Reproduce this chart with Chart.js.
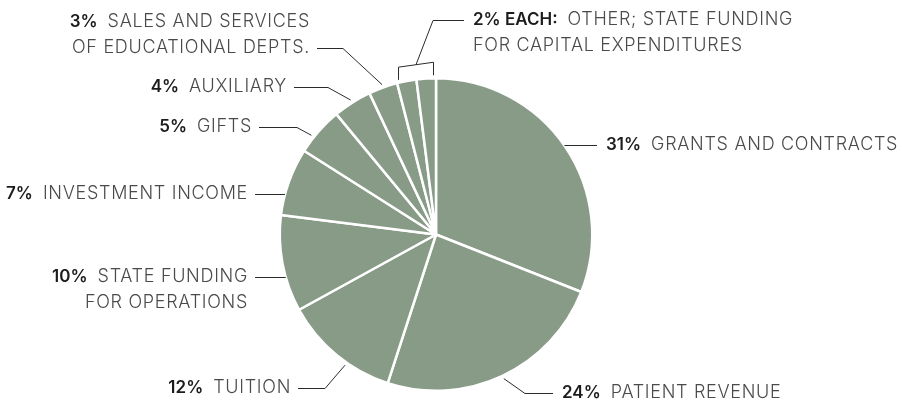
<!DOCTYPE html>
<html>
<head>
<meta charset="utf-8">
<script src="https://cdn.jsdelivr.net/npm/chart.js@4.4.0/dist/chart.umd.min.js"></script>
<style>
  html, body { margin:0; padding:0; background:#fff; }
  #wrap { width:902px; height:400px; position:relative; }
</style>
</head>
<body>
<div id="wrap"><canvas id="pie"></canvas></div>
<script>
// ---- data ----
const categories = ['Grants and contracts', 'Patient revenue', 'Tuition', 'State funding for operations',
  'Investment income', 'Gifts', 'Auxiliary', 'Sales and services of educational depts.',
  'Other', 'State funding for capital expenditures'];
const shares = [31, 24, 12, 10, 7, 5, 4, 3, 2, 2];

// callout texts (the two 2% slices share one callout)
const pctLabels = ['31%', '24%', '12%', '10%', '7%', '5%', '4%', '3%', '2% EACH:'];
const calloutText = [
  ['GRANTS AND CONTRACTS'],
  ['PATIENT REVENUE'],
  ['TUITION'],
  ['STATE FUNDING', 'FOR OPERATIONS'],
  ['INVESTMENT INCOME'],
  ['GIFTS'],
  ['AUXILIARY'],
  ['SALES AND SERVICES', 'OF EDUCATIONAL DEPTS.'],
  ['OTHER; STATE FUNDING', 'FOR CAPITAL EXPENDITURES']
];
const calloutSlices = [[0], [1], [2], [3], [4], [5], [6], [7], [8, 9]];

// ---- callout layout, offsets from the pie centre ----
const LINE_H = 26;
const callouts = [
  { align: 'left',  tx: 170,  ty: -90,  mode: 'h' },
  { align: 'left',  tx: 126,  ty: 158,  mode: 'elbow', ex: 89 },
  { align: 'right', tx: -145, ty: 153,  mode: 'elbow', ex: -111, at: 0.39 },
  { align: 'right', tx: -188, ty: 42,   mode: 'h' },
  { align: 'right', tx: -188, ty: -41,  mode: 'h' },
  { align: 'right', tx: -184, ty: -108, mode: 'elbow', ex: -139, at: 0.34 },
  { align: 'right', tx: -149, ty: -148, mode: 'elbow', ex: -108 },
  { align: 'right', tx: -126, ty: -213, mode: 'elbow', ex: -93, leadLine: 1 },
  { align: 'left',  tx: 37,   ty: -215, mode: 'bracket', ex: -3 }
];

const PCT_FONT = '600 17px Inter, Roboto, sans-serif';
const TXT_FONT = '300 18px Inter, Roboto, sans-serif';

const calloutPlugin = {
  id: 'callouts',
  afterDatasetsDraw(chart) {
    const ctx = chart.ctx;
    const arcs = chart.getDatasetMeta(0).data;
    const cx = arcs[0].x, cy = arcs[0].y, R = arcs[0].outerRadius;
    const spacing = v => { if ('letterSpacing' in ctx) ctx.letterSpacing = v; };
    ctx.save();
    ctx.strokeStyle = '#2b2b2b';
    ctx.lineWidth = 1;
    ctx.textBaseline = 'middle';
    ctx.textAlign = 'left';

    callouts.forEach((c, i) => {
      const idx = calloutSlices[i];
      const first = arcs[idx[0]], last = arcs[idx[idx.length - 1]];
      const ly = Math.round(cy + c.ty + (c.leadLine || 0) * LINE_H) + 0.5;
      const tx = cx + c.tx;
      const lineEnd = c.align === 'right' ? tx + 7 : tx - 9;

      // leader line
      ctx.beginPath();
      if (c.mode === 'h') {
        const dy = ly - cy;
        const dx = Math.sqrt(R * R - dy * dy);
        ctx.moveTo(c.align === 'right' ? cx - dx : cx + dx, ly);
        ctx.lineTo(lineEnd, ly);
      } else if (c.mode === 'elbow') {
        const a = first.startAngle + (first.endAngle - first.startAngle) * (c.at ?? 0.5);
        ctx.moveTo(cx + (R + 3) * Math.cos(a), cy + (R + 3) * Math.sin(a));
        ctx.lineTo(cx + c.ex, ly);
        ctx.lineTo(lineEnd, ly);
      } else {
        const a1 = first.startAngle + 0.012, a2 = last.endAngle - 0.012;
        const x1 = Math.round(cx + (R + 3) * Math.cos(a1)) + 0.5, y1 = cy + (R + 3) * Math.sin(a1);
        const x2 = Math.round(cx + (R + 3) * Math.cos(a2)) - 0.5, y2 = cy + (R + 3) * Math.sin(a2);
        const t1 = cy + (R + 16) * Math.sin(a1), t2 = cy + (R + 16) * Math.sin(a2);
        ctx.moveTo(x1, y1); ctx.lineTo(x1, t1); ctx.lineTo(x2, t2); ctx.lineTo(x2, y2);
        ctx.moveTo((x1 + x2) / 2, (t1 + t2) / 2);
        ctx.lineTo(cx + c.ex, ly);
        ctx.lineTo(lineEnd, ly);
      }
      ctx.stroke();

      // text
      const gap = 10;
      calloutText[i].forEach((txt, li) => {
        const y = cy + c.ty + li * LINE_H;
        spacing('0px'); ctx.font = PCT_FONT;
        const pw = li === 0 ? ctx.measureText(pctLabels[i]).width + gap : 0;
        spacing('0.7px'); ctx.font = TXT_FONT;
        const tw = ctx.measureText(txt).width;
        let x = c.align === 'right' ? tx - tw - pw : tx;
        if (li === 0) {
          spacing('0px'); ctx.font = PCT_FONT;
          ctx.fillStyle = '#1c1c1c';
          ctx.fillText(pctLabels[i], x, y);
          x += pw;
        }
        spacing('0.7px'); ctx.font = TXT_FONT;
        ctx.fillStyle = '#4a4a4a';
        ctx.fillText(txt, x, y);
      });
    });
    ctx.restore();
  }
};

new Chart(document.getElementById('pie').getContext('2d'), {
  type: 'pie',
  data: {
    labels: categories,
    datasets: [{
      data: shares,
      backgroundColor: '#879b87',
      borderColor: '#ffffff',
      borderWidth: 2.5,
      hoverOffset: 0
    }]
  },
  options: {
    responsive: true, maintainAspectRatio: false, animation: false,
    layout: { padding: { top: 77, bottom: 8, left: 236, right: 266 } },
    plugins: { legend: { display: false }, tooltip: { enabled: false } }
  },
  plugins: [calloutPlugin]
});
</script>
</body>
</html>
